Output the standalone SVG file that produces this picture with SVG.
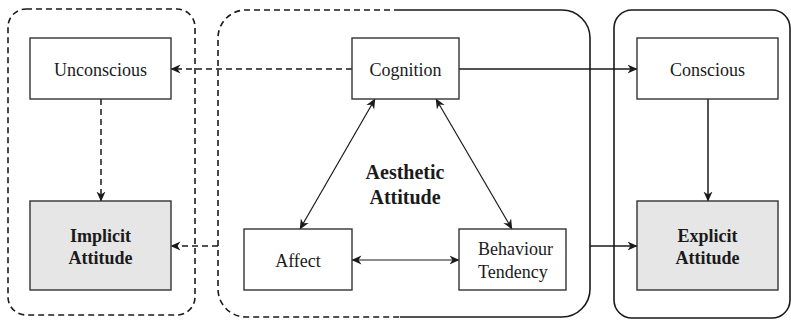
<svg xmlns="http://www.w3.org/2000/svg" width="791" height="322" viewBox="0 0 791 322">
  <style>
    .box { fill: #ffffff; stroke: #333333; stroke-width: 1.4; }
    .box.grey { fill: #e6e6e6; }
    .cont { fill: none; stroke: #1a1a1a; stroke-width: 1.6; }
    .dash { stroke-dasharray: 6 4; }
    .t { font-family: "Liberation Serif", "DejaVu Serif", serif; font-size: 18px; fill: #1a1a1a; text-anchor: middle; }
    .b { font-weight: bold; }
    .big { font-size: 20px; }
    .left { text-anchor: start; }
    .conn { fill: none; stroke: #1a1a1a; stroke-width: 1.5; }
    .thin { stroke-width: 1.2; }
  </style>
  <defs>
    <marker id="arr" viewBox="0 0 10 10" refX="9.5" refY="5" markerWidth="10" markerHeight="10" markerUnits="userSpaceOnUse" orient="auto-start-reverse">
      <path d="M0,0.5 L10,5 L0,9.5 L3,5 Z" fill="#1a1a1a"/>
    </marker>
  </defs>

  <g id="containers">
    <g id="implicit-container">
      <rect class="cont dash" x="8" y="9" width="187" height="306" rx="18" ry="18"/>
    </g>
    <g id="aesthetic-container">
      <path class="cont dash" d="M400,10 L246,10 A28,28 0 0 0 218,38 L218,289 A28,28 0 0 0 246,317 L400,317"/>
      <path class="cont" d="M400,10 L562,10 A28,28 0 0 1 590,38 L590,289 A28,28 0 0 1 562,317 L400,317"/>
    </g>
    <g id="explicit-container">
      <rect class="cont" x="614" y="10" width="176" height="308" rx="18" ry="18"/>
    </g>
  </g>

  <g id="connectors">
    <line class="conn dash" x1="352" y1="69" x2="171" y2="69" marker-end="url(#arr)"/>
    <line class="conn dash" x1="101" y1="99" x2="101" y2="201" marker-end="url(#arr)"/>
    <line class="conn dash" x1="218" y1="246" x2="171" y2="246" marker-end="url(#arr)"/>
    <line class="conn" x1="459" y1="69" x2="637" y2="69" marker-end="url(#arr)"/>
    <line class="conn" x1="590" y1="246" x2="637" y2="246" marker-end="url(#arr)"/>
    <line class="conn" x1="708" y1="99" x2="708" y2="201" marker-end="url(#arr)"/>
    <line class="conn thin" x1="375" y1="99" x2="300" y2="229" marker-start="url(#arr)" marker-end="url(#arr)"/>
    <line class="conn thin" x1="436" y1="99" x2="512" y2="229" marker-start="url(#arr)" marker-end="url(#arr)"/>
    <line class="conn thin" x1="352" y1="260" x2="459" y2="260" marker-start="url(#arr)" marker-end="url(#arr)"/>
  </g>

  <g id="unconscious">
    <rect class="box" x="30" y="38" width="141" height="61"/>
    <text class="t" x="100.5" y="76">Unconscious</text>
  </g>
  <g id="implicit-attitude">
    <rect class="box grey" x="30" y="201" width="141" height="89"/>
    <text class="t b" x="100.5" y="242">Implicit</text>
    <text class="t b" x="100.5" y="264">Attitude</text>
  </g>
  <g id="cognition">
    <rect class="box" x="352" y="38" width="107" height="61"/>
    <text class="t" x="405.5" y="76">Cognition</text>
  </g>
  <g id="aesthetic-attitude">
    <text class="t b big" x="405" y="179">Aesthetic</text>
    <text class="t b big" x="405" y="204">Attitude</text>
  </g>
  <g id="affect">
    <rect class="box" x="244" y="229" width="108" height="61"/>
    <text class="t" x="298" y="267">Affect</text>
  </g>
  <g id="behaviour-tendency">
    <rect class="box" x="459" y="229" width="107" height="61"/>
    <text class="t left" x="478" y="255">Behaviour</text>
    <text class="t left" x="478" y="278">Tendency</text>
  </g>
  <g id="conscious">
    <rect class="box" x="637" y="38" width="141" height="61"/>
    <text class="t" x="707.5" y="76">Conscious</text>
  </g>
  <g id="explicit-attitude">
    <rect class="box grey" x="637" y="201" width="141" height="89"/>
    <text class="t b" x="707.5" y="242">Explicit</text>
    <text class="t b" x="707.5" y="264">Attitude</text>
  </g>
</svg>
